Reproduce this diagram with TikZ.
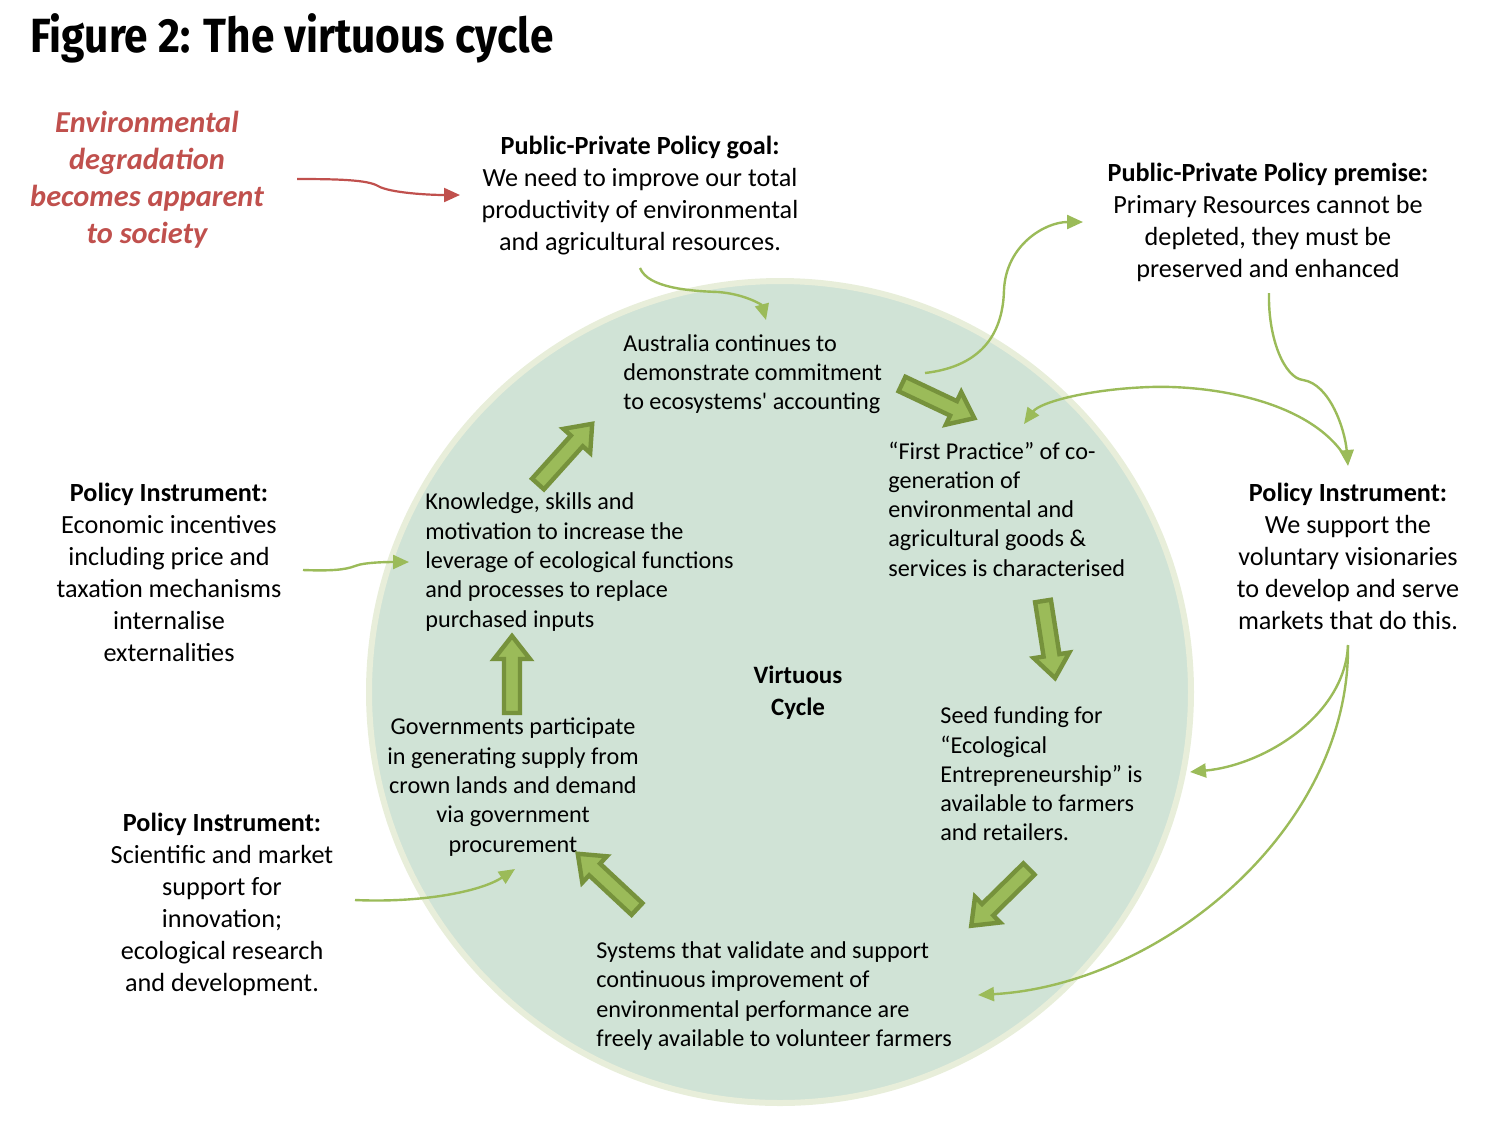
\documentclass[tikz,border=0pt]{standalone}
\usepackage{fontspec}
\usepackage{graphicx}
\setmainfont{Carlito}
\newfontfamily\titlefont{Fira Sans}
\usetikzlibrary{arrows.meta}
\definecolor{cfill}{RGB}{208,227,214}
\definecolor{cedge}{RGB}{232,238,218}
\definecolor{lgreen}{RGB}{155,187,89}
\definecolor{dgreen}{RGB}{118,146,60}
\definecolor{redtx}{RGB}{192,80,77}
\tikzset{
  outer/.style={font=\fontsize{13.1}{16}\selectfont, align=center, inner sep=0pt},
  inner/.style={font=\fontsize{12.1}{14.65}\selectfont, align=left, inner sep=0pt, anchor=west},
  conn/.style={draw=lgreen, line width=1.2pt, -{Triangle[length=8pt,width=7pt]}},
  redconn/.style={draw=redtx, line width=1.1pt, -{Triangle[length=8pt,width=7pt]}},
  blockarr/.style={draw=dgreen, fill=lgreen, line width=2.2pt, line join=miter},
}
\newcommand\blockarrow[3]{%
  \begin{scope}[shift={#1}, rotate=#2]
    \draw[blockarr] (0,8) -- ({#3-23},8) -- ({#3-23},18) -- (#3,0) -- ({#3-23},-18) -- ({#3-23},-8) -- (0,-8) -- cycle;
  \end{scope}}
\begin{document}
\begin{tikzpicture}[x=0.5pt,y=-0.5pt]
\useasboundingbox (0,0) rectangle (1501,1132);
% title
\node[anchor=base west, inner sep=0pt] (title) at (30,52) {\resizebox{261.5pt}{\height}{\titlefont\fontsize{24}{28}\selectfont\bfseries Figure 2: The virtuous cycle}};
% circle
\node[circle, minimum size=822pt*0.5, fill=cfill, draw=cedge, line width=3pt] (cyc) at (780,692) {};
% red text
\node[font=\fontsize{15.2}{18.5}\selectfont\bfseries\itshape, text=redtx, align=center, inner sep=0pt] (env) at (147,180) {Environmental\\degradation\\becomes apparent\\to society};
% outer texts
\node[outer] (goal) at (640,196) {\textbf{Public-Private Policy goal:}\\We need to improve our total\\productivity of environmental\\and agricultural resources.};
\node[outer] (premise) at (1268,222) {\textbf{Public-Private Policy premise:}\\Primary Resources cannot be\\depleted, they must be\\preserved and enhanced};
\node[outer] (pil) at (169,572) {\textbf{Policy Instrument:}\\Economic incentives\\including price and\\taxation mechanisms\\internalise\\externalities};
\node[outer] (pir) at (1348,556) {\textbf{Policy Instrument:}\\We support the\\voluntary visionaries\\to develop and serve\\markets that do this.};
\node[outer] (pib) at (222,904) {\textbf{Policy Instrument:}\\Scientific and market\\support for\\innovation;\\ecological research\\and development.};
% inner texts
\node[inner] (aus) at (623,374) {Australia continues to\\demonstrate commitment\\to ecosystems\textquotesingle\ accounting};
\node[inner] (first) at (888,509) {“First Practice” of co-\\generation of\\environmental and\\agricultural goods \&\\services is characterised};
\node[inner] (seed) at (940,774) {Seed funding for\\“Ecological\\Entrepreneurship” is\\available to farmers\\and retailers.};
\node[inner] (sys) at (596,996) {Systems that validate and support\\continuous improvement of\\environmental performance are\\freely available to volunteer farmers};
\node[inner, anchor=center, align=center] (gov) at (513,787) {Governments participate\\in generating supply from\\crown lands and demand\\via government\\procurement};
\node[inner] (know) at (425,562) {Knowledge, skills and\\motivation to increase the\\leverage of ecological functions\\and processes to replace\\purchased inputs};
\node[font=\fontsize{12.5}{16}\selectfont\bfseries, align=center, inner sep=0pt] (vc) at (798,693) {Virtuous\\Cycle};
% block arrows
\blockarrow{(902,384)}{-25.3}{80}
\blockarrow{(1043,601)}{-81.1}{78}
\blockarrow{(1029,869)}{-135.5}{81}
\blockarrow{(637,909)}{137}{81}
\blockarrow{(512,713)}{90}{77}
\blockarrow{(538,484)}{48}{81}
% connector endpoints
\coordinate (r1) at (297,179);
\coordinate (r2) at (460,195);
\coordinate (b1) at (640,268);
\coordinate (b2) at (766,320);
\coordinate (c1) at (925,373);
\coordinate (c2) at (1083,222);
\coordinate (d1) at (1269,293);
\coordinate (d2) at (1348,466);
\coordinate (e1) at (1346,458);
\coordinate (e2) at (1024,424);
\coordinate (f1) at (1348,645);
\coordinate (f2) at (1190,772);
\coordinate (g2) at (978,995);
\coordinate (h1) at (303,570);
\coordinate (h2) at (409,562);
\coordinate (i1) at (355,900);
\coordinate (i2) at (515,869);
% connectors
\draw[redconn] (r1) .. controls (340,179) and (368,180) .. (378,186) .. controls (390,193) and (430,195) .. (r2);
\draw[conn] (b1) .. controls (648,288) and (690,291) .. (718,292) .. controls (745,294) and (762,305) .. (b2);
\draw[conn] (c1) .. controls (985,366) and (1003,330) .. (1004,290) .. controls (1006,245) and (1045,222) .. (c2);
\draw[conn] (d1) .. controls (1268,340) and (1285,378) .. (1303,380) .. controls (1330,384) and (1345,430) .. (d2);
\draw[conn] (e1) .. controls (1310,400) and (1210,385) .. (1150,387) .. controls (1090,389) and (1040,402) .. (e2);
\draw[conn] (f1) .. controls (1345,715) and (1265,765) .. (f2);
\draw[conn] (f1) .. controls (1350,830) and (1160,985) .. (g2);
\draw[conn] (h1) .. controls (330,571) and (345,570) .. (355,566) .. controls (365,562) and (390,562) .. (h2);
\draw[conn] (i1) .. controls (420,903) and (480,892) .. (i2);
\end{tikzpicture}
\end{document}
